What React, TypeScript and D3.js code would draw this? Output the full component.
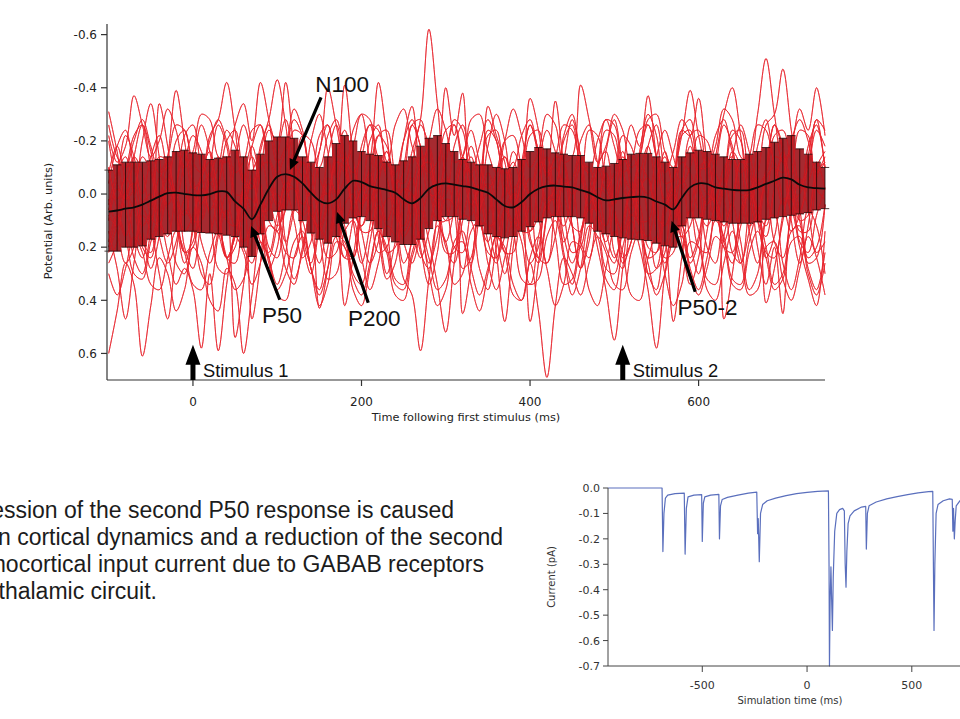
import React from "react";
import * as d3 from "d3";

// ---------- DATA: averaged evoked potential (top chart) ----------
const sampleStart = -100; // ms
const sampleStep = 10; // ms

const meanPotential = [
  0.066, 0.062, 0.055, 0.05, 0.04, 0.025, 0.01, -0.003, -0.005, 0.0,
  0.004, 0.005, 0.0, -0.01, -0.008, 0.028, 0.055, 0.095, 0.04, -0.02,
  -0.065, -0.075, -0.065, -0.04, -0.005, 0.025, 0.035, 0.02, -0.02, -0.05,
  -0.045, -0.03, -0.022, -0.015, -0.005, 0.02, 0.035, 0.015, -0.02, -0.035,
  -0.04, -0.035, -0.03, -0.025, -0.015, -0.005, 0.02, 0.045, 0.05, 0.03,
  0.0, -0.02, -0.03, -0.032, -0.028, -0.025, -0.015, -0.005, 0.012, 0.024,
  0.02, 0.015, 0.012, 0.01, 0.014, 0.028, 0.04, 0.058, 0.015, -0.025,
  -0.04, -0.038, -0.025, -0.02, -0.016, -0.014, -0.015, -0.025, -0.038, -0.05,
  -0.062, -0.055, -0.035, -0.025, -0.022, -0.02,
];

const upperBound = [
  -0.09, -0.11, -0.12, -0.12, -0.12, -0.125, -0.13, -0.14, -0.16, -0.165,
  -0.155, -0.15, -0.13, -0.135, -0.14, -0.165, -0.14, -0.09, -0.15, -0.2,
  -0.215, -0.215, -0.21, -0.14, -0.12, -0.1, -0.14, -0.19, -0.22, -0.2,
  -0.16, -0.15, -0.145, -0.12, -0.11, -0.125, -0.14, -0.18, -0.21, -0.22,
  -0.19, -0.16, -0.13, -0.12, -0.11, -0.11, -0.1, -0.095, -0.1, -0.13,
  -0.16, -0.175, -0.17, -0.155, -0.15, -0.145, -0.145, -0.12, -0.1, -0.105,
  -0.115, -0.13, -0.15, -0.153, -0.153, -0.14, -0.12, -0.1, -0.14, -0.155,
  -0.165, -0.16, -0.15, -0.14, -0.13, -0.13, -0.15, -0.16, -0.175, -0.195,
  -0.21, -0.22, -0.17, -0.15, -0.12, -0.1,
];

const lowerBound = [
  0.215, 0.215, 0.2, 0.2, 0.195, 0.17, 0.16, 0.15, 0.14, 0.14,
  0.14, 0.145, 0.147, 0.15, 0.155, 0.16, 0.2, 0.235, 0.15, 0.1,
  0.065, 0.06, 0.06, 0.1, 0.147, 0.17, 0.185, 0.16, 0.11, 0.09,
  0.085, 0.1, 0.13, 0.16, 0.18, 0.19, 0.19, 0.17, 0.13, 0.1,
  0.085, 0.085, 0.095, 0.1, 0.12, 0.15, 0.16, 0.165, 0.16, 0.14,
  0.123, 0.105, 0.09, 0.085, 0.085, 0.085, 0.09, 0.11, 0.14, 0.15,
  0.16, 0.165, 0.17, 0.172, 0.175, 0.185, 0.195, 0.2, 0.12, 0.09,
  0.09, 0.095, 0.1, 0.105, 0.11, 0.11, 0.11, 0.105, 0.095, 0.09,
  0.085, 0.08, 0.075, 0.07, 0.06, 0.055,
];

// individual trials, in hundredths of an arbitrary unit
const trial01 = [
  -4, -18, -24, -10, 0, -14, -22, -8, 2, -12,
  -22, -16, -4, -10, -24, -18, -6, -2, -16, -26,
  -14, -2, -8, -22, -20, -6, 0, -14, -24, -12,
  -2, -10, -22, -18, -6, -4, -16, -28, -62, -34,
  -8, -2, -14, -24, -12, -2, -8, -20, -22, -10,
  0, -12, -24, -16, -4, -6, -20, -26, -12, -2,
  -8, -22, -18, -6, 0, -14, -24, -14, -4, -10,
  -22, -20, -8, -2, -14, -26, -16, -4, -8, -22,
  -24, -12, -2, -10, -24, -18,
];
const trial02 = [
  -22, -12, -18, -37, -26, -14, -20, -32, -24, -10,
  -16, -30, -28, -14, -12, -26, -34, -20, -42, -28,
  -12, -18, -32, -24, -10, -16, -40, -26, -12, -18,
  -30, -28, -14, -12, -26, -32, -18, -10, -20, -32,
  -24, -12, -14, -28, -30, -16, -8, -20, -32, -22,
  -10, -16, -30, -26, -12, -14, -41, -28, -12, -18,
  -30, -24, -10, -14, -28, -30, -16, -10, -22, -39,
  -22, -10, -18, -32, -28, -14, -12, -30, -51, -30,
  -12, -18, -32, -24, -40, -22,
];
const trial03 = [
  30, 38, 28, 16, 22, 34, 36, 24, 14, 22,
  34, 36, 22, 14, 24, 36, 32, 18, 12, 26,
  36, 30, 18, 14, 28, 38, 28, 16, 18, 32,
  38, 26, 14, 20, 34, 36, 22, 14, 24, 36,
  32, 18, 14, 28, 38, 28, 16, 20, 34, 40,
  26, 44, 69, 42, 24, 30, 38, 26, 16, 22,
  34, 36, 22, 14, 26, 38, 30, 18, 16, 30,
  38, 28, 16, 20, 34, 36, 22, 14, 24, 36,
  32, 18, 16, 30, 38, 26,
];
const trial04 = [
  60, 44, 26, 34, 61, 42, 24, 30, 44, 36,
  20, 26, 40, 44, 28, 34, 60, 38, 18, 24,
  38, 40, 24, 16, 28, 42, 34, 18, 20, 36,
  42, 28, 14, 22, 38, 40, 24, 16, 30, 42,
  36, 20, 18, 34, 44, 30, 16, 22, 38, 40,
  24, 16, 28, 42, 34, 18, 20, 36, 42, 28,
  14, 22, 38, 40, 24, 16, 30, 42, 34, 18,
  20, 36, 40, 26, 14, 24, 38, 36, 20, 18,
  32, 40, 28, 16, 24, 38,
];
const trial05 = [
  18, 8, 16, 30, 32, 18, 10, 22, 34, 28,
  36, 58, 30, 59, 34, 16, 22, 34, 26, 12,
  14, 28, 34, 20, 8, 16, 32, 30, 14, 10,
  24, 36, 26, 12, 16, 32, 38, 59, 32, 12,
  18, 34, 30, 14, 10, 26, 36, 24, 10, 18,
  34, 32, 16, 10, 24, 38, 28, 12, 16, 32,
  36, 20, 10, 20, 36, 58, 30, 14, 12, 28,
  36, 24, 10, 16, 32, 34, 18, 8, 20, 34,
  30, 14, 12, 28, 36, 22,
];
const trial06 = [
  -10, 2, -8, -22, -26, -10, 0, -14, -39, -20,
  -2, -6, -22, -28, -42, -24, -4, -2, -18, -28,
  -43, -26, -6, -4, -20, -30, -16, 0, -6, -24,
  -30, -14, -42, -22, -4, -8, -26, -28, -10, 0,
  -12, -28, -24, -6, -2, -18, -30, -20, -2, -8,
  -36, -24, -6, -4, -22, -30, -14, 0, -10, -28,
  -26, -8, -2, -16, -30, -22, -4, -6, -24, -28,
  -10, 0, -14, -30, -40, -22, -2, -8, -26, -30,
  -47, -24, -4, -10, -28, -24,
];
const trial07 = [
  14, 28, 47, 26, 8, 14, 30, 47, 22, 6,
  12, 30, 34, 16, 6, 54, 34, 12, 8, 24,
  34, 22, 6, 10, 28, 36, 20, 4, 12, 30,
  34, 18, 4, 14, 32, 34, 16, 6, 18, 34,
  52, 26, 8, 10, 28, 36, 20, 6, 14, 32,
  34, 16, 4, 16, 34, 32, 14, 6, 20, 36,
  55, 28, 8, 12, 30, 36, 18, 48, 24, 6,
  14, 32, 34, 16, 4, 18, 36, 30, 10, 8,
  26, 36, 24, 6, 12, 30,
];
const trial08 = [
  10, -2, 6, 24, 30, 14, 0, 6, 26, 30,
  12, -2, 8, 28, 30, 12, 0, 47, 26, 2,
  0, 18, 32, 22, 4, 43, 28, 6, 42, 24,
  6, 0, 16, 32, 26, 6, 0, 20, 34, 22,
  2, 4, 45, 28, 6, 0, 22, 48, 20, 2,
  48, 26, 4, 2, 22, 34, 18, 0, 8, 28,
  30, 12, -2, 10, 30, 28, 8, 0, 18, 34,
  24, 4, 2, 47, 30, 8, 0, 20, 34, 20,
  45, 6, 20, 32, 42, 14,
];
const trial09 = [
  -31, -16, 2, -2, -20, -34, -14, 4, -4, -22,
  -26, -8, 6, -2, -20, -24, -4, 6, -8, -24,
  -20, -42, -16, 4, -2, -22, -26, -6, -41, -14,
  4, -4, -22, -24, -6, 4, -10, -26, -18, 2,
  0, -18, -26, -10, 6, -33, -22, -12, 4, -4,
  -22, -24, -6, -35, -12, 0, -4, -24, -22, -4,
  4, -10, -26, -18, -37, -14, 2, -6, -24, -22,
  -36, -12, 4, -4, -22, -24, -4, 6, -10, -26,
  -18, 2, 0, -18, -26, -10,
];
const trial10 = [
  6, -6, -22, -14, 4, 10, -34, -18, 2, 8,
  -10, -26, -16, 4, 8, -12, -26, -14, 6, 6,
  -14, -28, -12, 8, 4, -16, -26, -8, 10, 2,
  -18, -26, -6, 10, 0, -20, -33, -4, 12, -2,
  -40, -22, -38, 8, -4, -24, -20, 2, 10, -8,
  -26, -16, 6, 8, -12, -28, -14, 6, 4, -16,
  -28, -10, 8, 2, -18, -26, -6, 10, -2, -22,
  -24, -4, 10, -4, -24, -20, 2, 10, -8, -26,
  -16, 6, 6, -14, -28, -10,
];
const trial11 = [
  20, 8, -6, 0, 18, 22, 4, -6, 6, 22,
  18, 0, -8, 8, 24, 16, -2, -4, 12, 24,
  12, -4, -2, 16, 26, 10, -6, 0, 20, 24,
  6, -8, 4, 22, 20, 2, -6, 10, 26, 16,
  -2, -4, 16, 26, 8, -8, 2, 22, 22, 2,
  -6, 8, 26, 16, -4, -2, 18, 24, 6, -8,
  6, 24, 18, -2, -6, 14, 26, 10, -6, 2,
  20, 22, 2, -6, 10, 26, 14, -4, 0, 18,
  24, 8, -6, 6, 22, 18,
];
const trial12 = [
  -10, 6, 16, 2, -14, -8, 10, 16, -2, -16,
  -4, 14, 14, -4, -14, 0, 18, 10, -10, -12,
  4, 18, 6, -12, -8, 10, 18, 2, -14, -4,
  14, 14, -4, -16, 0, 16, 10, -10, -12, 6,
  18, 6, -12, -8, 10, 18, 0, -14, -4, 14,
  14, -6, -14, 2, 18, 8, -10, -10, 8, 18,
  4, -14, -6, 12, 16, -2, -16, 0, 16, 12,
  -6, -14, 4, 18, 6, -12, -8, 10, 16, -2,
  -16, -2, 14, 14, -6, -14,
];
const trial13 = [
  8, 12, -2, -14, -8, 8, 12, -4, -16, -6,
  10, 10, -6, -14, -2, 12, 8, -8, -14, 0,
  12, 6, -10, -12, 2, 14, 4, -12, -10, 6,
  12, 0, -14, -6, 8, 12, -2, -14, -4, 10,
  10, -4, -14, 0, 12, 8, -8, -14, 2, 12,
  4, -12, -10, 6, 12, 0, -14, -6, 8, 12,
  -4, -16, -2, 10, 10, -6, -14, 0, 12, 6,
  -10, -12, 4, 12, 2, -12, -10, 6, 12, -2,
  -14, -4, 10, 8, -8, -12,
];
const trial14 = [
  26, 18, 0, -4, 14, 28, 16, -2, 0, 20,
  28, 10, -4, 4, 24, 26, 6, -6, 10, 28,
  20, 0, -2, 18, 30, 12, -4, 4, 24, 24,
  4, -6, 12, 30, 18, -2, 0, 22, 28, 8,
  -6, 6, 28, 24, 2, -4, 16, 30, 14, -4,
  2, 24, 26, 4, -6, 12, 28, 18, -2, 0,
  22, 28, 8, -6, 8, 28, 22, 0, -4, 18,
  30, 14, -4, 2, 22, 26, 6, -6, 41, 28,
  10, -4, 6, 26, 24, 4,
];
const trial15 = [
  -20, -4, 2, -14, -26, -16, 2, -2, -20, -24,
  -6, 4, -10, -26, -18, 0, 0, -18, -26, -8,
  4, -6, -24, -22, -2, 2, -14, -26, -12, 4,
  -2, -20, -26, -6, 4, -10, -26, -18, 0, 0,
  -16, -26, -10, 4, -4, -22, -24, -4, 2, -12,
  -26, -14, 2, -2, -20, -26, -8, 4, -8, -24,
  -22, -2, 2, -14, -26, -14, 4, -4, -22, -24,
  -4, 4, -10, -26, -18, 0, 0, -18, -28, -10,
  4, -6, -24, -22, -2, 2,
];
const trial16 = [
  -8, -18, -4, 16, 24, 6, -14, -12, 10, 26,
  14, -8, -16, 2, 24, 20, -4, -18, -4, 20,
  24, 2, -16, -10, 14, 26, 8, -14, -12, 10,
  26, 12, -10, -16, 4, 26, 18, -6, -18, 0,
  22, 22, -2, -18, -6, 18, 26, 4, -16, -8,
  16, 26, 8, -14, -12, 12, 28, 14, -10, -16,
  6, 26, 18, -6, -18, 0, 24, 22, -2, -18,
  -4, 20, 26, 4, -16, -10, 14, 26, 8, -14,
  -12, 10, 26, 12, -10, -16,
];
const trial17 = [
  4, -8, -14, 0, 12, 6, -6, -10, 2, 14,
  8, -6, -12, -2, 10, 12, -2, -14, -4, 10,
  14, 0, -10, -6, 8, 12, 2, -12, -8, 6,
  12, 4, -8, -12, 4, 14, 6, -10, -12, 2,
  10, 8, -6, -14, 0, 12, 10, -4, -12, -2,
  14, 8, -6, -10, 0, 12, 14, -2, -10, -6,
  6, 14, 4, -10, -6, 8, 12, 2, -12, -8,
  6, 12, 4, -10, -14, 0, 12, 8, -6, -10,
  2, 14, 8, -4, -12, -2,
];
const trial18 = [
  22, 12, 0, 6, 20, 24, 8, -2, 8, 22,
  20, 4, 0, 14, 24, 16, 2, 2, 18, 22,
  8, -2, 10, 24, 18, 2, 0, 16, 24, 10,
  -2, 6, 22, 20, 4, -2, 12, 24, 14, 0,
  4, 20, 22, 6, -2, 10, 24, 16, 0, 2,
  18, 24, 8, -2, 8, 22, 20, 4, 0, 14,
  24, 14, 0, 4, 20, 22, 6, -2, 10, 24,
  16, 0, 4, 20, 22, 6, -2, 10, 24, 16,
  2, 2, 18, 22, 8, -2,
];
const trial19 = [
  -26, -14, -10, -20, -28, -18, -8, -14, -26, -24,
  -12, -8, -20, -28, -20, -8, -12, -24, -26, -14,
  -8, -16, -28, -22, -10, -10, -22, -28, -16, -8,
  -14, -26, -24, -12, -8, -20, -28, -18, -8, -12,
  -24, -26, -14, -8, -18, -28, -20, -8, -10, -22,
  -28, -16, -8, -14, -26, -24, -12, -8, -20, -28,
  -18, -8, -12, -24, -26, -14, -8, -16, -28, -22,
  -10, -10, -22, -28, -16, -8, -14, -26, -24, -12,
  -8, -20, -28, -20, -8, -12,
];
const trial20 = [
  2, 14, 26, 20, 4, 0, 16, 26, 18, 2,
  0, 18, 26, 14, 0, 4, 20, 26, 10, -2,
  6, 22, 24, 8, -2, 10, 24, 22, 4, 0,
  14, 26, 18, 2, 2, 18, 26, 14, 0, 4,
  20, 26, 10, -2, 8, 22, 24, 6, 0, 12,
  26, 20, 2, 0, 16, 26, 16, 0, 4, 20,
  26, 10, -2, 8, 24, 22, 4, 0, 14, 26,
  18, 2, 2, 18, 26, 12, 0, 6, 22, 24,
  8, -2, 10, 24, 20, 4,
];
const trials = [
  trial01, trial02, trial03, trial04, trial05, trial06, trial07, trial08, trial09, trial10,
  trial11, trial12, trial13, trial14, trial15, trial16, trial17, trial18, trial19, trial20,
];

const potentialTicks = [-0.6, -0.4, -0.2, 0, 0.2, 0.4, 0.6];
const timeTicks = [0, 200, 400, 600];

// annotation anchors in data units [ms, potential]
const peakLabels = ["N100", "P50", "P200", "P50-2"];
const peakTail = [[152, -0.364], [103, 0.398], [208, 0.409], [596, 0.368]];
const peakTip = [[115, -0.09], [69, 0.12], [171, 0.068], [568, 0.101]];
const peakText = [[145, -0.383], [82, 0.484], [184, 0.495], [575, 0.454]];

const stimulusLabels = ["Stimulus 1", "Stimulus 2"];
const stimulusTimes = [0, 510];

// ---------- DATA: thalamocortical input current (bottom-right chart) ----------
const currentTime = [
  -950, -692, -688, -683, -676, -665, -630, -586, -582, -576, -568, -540, -503, -500, -495,
  -488, -460, -421, -418, -413, -405, -380, -330, -280, -240, -236, -233, -228, -222, -212,
  -190, -150, -100, -50, 0, 50, 102, 105, 107, 110, 114, 118, 121, 125, 132, 142, 155, 170,
  178, 182, 186, 190, 196, 205, 225, 260, 280, 283, 288, 296, 330, 380, 430, 480, 530, 580,
  600, 603, 606, 610, 616, 625, 650, 680, 693, 696, 699, 703, 707, 712, 730, 760,
];
const currentValue = [
  0, 0, -0.25, -0.1, -0.04, -0.028, -0.022, -0.02, -0.26, -0.08, -0.035, -0.028, -0.026, -0.21, -0.06,
  -0.035, -0.028, -0.025, -0.2, -0.07, -0.045, -0.037, -0.028, -0.02, -0.016, -0.18, -0.12, -0.29, -0.1, -0.065,
  -0.05, -0.04, -0.03, -0.022, -0.017, -0.013, -0.011, -0.31, -0.7, -0.45, -0.31, -0.46, -0.56, -0.35, -0.17, -0.1, -0.085, -0.08,
  -0.09, -0.3, -0.39, -0.25, -0.14, -0.11, -0.09, -0.075, -0.072, -0.24, -0.1, -0.07, -0.055, -0.043, -0.034, -0.026, -0.019, -0.014,
  -0.013, -0.3, -0.56, -0.3, -0.1, -0.065, -0.05, -0.043, -0.045, -0.17, -0.08, -0.2, -0.13, -0.07, -0.05, -0.04,
];
const currentTicks = [0, -0.1, -0.2, -0.3, -0.4, -0.5, -0.6, -0.7];
const simTimeTicks = [-500, 0, 500];

// ---------- DATA: slide text ----------
const bodyLines = [
  "ession of the second P50 response is caused",
  "n cortical dynamics and a reduction of the second",
  "mocortical input current due to GABAB receptors",
  "thalamic circuit.",
];

// ---------- LAYOUT ----------
const W = 960;
const H = 719;
const axisFont = "'DejaVu Sans', Verdana, sans-serif";
const slideFont = "'Liberation Sans', Arial, Helvetica, sans-serif";
const bodyLineEnd = [454, 503, 484, 157];
const bodyLineBase = [518, 545, 572, 599];

function arrowPath(x1: number, y1: number, x2: number, y2: number, shaft: number, headLen: number, headW: number) {
  const dx = x2 - x1;
  const dy = y2 - y1;
  const len = Math.hypot(dx, dy);
  const ux = dx / len;
  const uy = dy / len;
  const nx = -uy;
  const ny = ux;
  const bx = x2 - ux * headLen;
  const by = y2 - uy * headLen;
  const p = [
    [x1 + nx * shaft / 2, y1 + ny * shaft / 2],
    [bx + nx * shaft / 2, by + ny * shaft / 2],
    [bx + nx * headW / 2, by + ny * headW / 2],
    [x2, y2],
    [bx - nx * headW / 2, by - ny * headW / 2],
    [bx - nx * shaft / 2, by - ny * shaft / 2],
    [x1 - nx * shaft / 2, y1 - ny * shaft / 2],
  ];
  return "M" + p.map((q) => q[0].toFixed(2) + "," + q[1].toFixed(2)).join("L") + "Z";
}

export default function App() {
  // top chart scales
  const x = d3.scaleLinear().domain([-102, 750]).range([107, 825]);
  const y = d3.scaleLinear().domain([-0.64, 0.7]).range([24, 380]);
  const tAt = (i: number) => sampleStart + sampleStep * i;
  const half = (x(sampleStep) - x(0)) / 2;

  const trialLine = d3
    .line<number>()
    .x((_, i) => x(tAt(i)))
    .y((d) => y(d / 100))
    .curve(d3.curveCatmullRom.alpha(0.5));

  const meanLine = d3
    .line<number>()
    .x((_, i) => x(tAt(i)))
    .y((d) => y(d))
    .curve(d3.curveCatmullRom.alpha(0.5));

  const band = d3
    .area<number>()
    .x((_, i) => x(tAt(i)))
    .y0((_, i) => y(upperBound[i]))
    .y1((_, i) => y(lowerBound[i]))
    .curve(d3.curveStep);

  // bottom chart scales
  const xc = d3.scaleLinear().domain([-950, 730]).range([608, 960]);
  const yc = d3.scaleLinear().domain([-0.7, 0]).range([666, 488]);
  const currentLine = d3
    .line<number>()
    .x((_, i) => xc(currentTime[i]))
    .y((d) => yc(d));

  const axisColor = "#333";
  const [x0, x1] = x.range();
  const [yTop, yBot] = y.range();

  return (
    <svg
      width={W}
      height={H}
      viewBox={`0 0 ${W} ${H}`}
      style={{ position: "absolute", left: 0, top: 0, display: "block", background: "#fff" }}
    >
      <rect x={0} y={0} width={W} height={H} fill="#fff" />

      {/* ---------- top chart ---------- */}
      <g fill="none" stroke="#e8202a" strokeWidth={0.9} strokeLinejoin="round">
        {trials.map((tr, k) => (
          <path key={k} d={trialLine(tr.slice(0, meanPotential.length)) || ""} />
        ))}
      </g>
      <path d={band(meanPotential) || ""} fill="#9a0d13" opacity={0.88} />
      <g fill="none" stroke="#e8242c" strokeWidth={0.8} strokeLinejoin="round" opacity={0.65}>
        {trials.map((tr, k) => (
          <path key={k} d={trialLine(tr.slice(0, meanPotential.length)) || ""} />
        ))}
      </g>
      <g stroke="#1a0000" strokeWidth={0.9} opacity={0.85}>
        {meanPotential.map((_, i) => {
          const xx = x(tAt(i));
          const ya = y(upperBound[i]);
          const yb = y(lowerBound[i]);
          return (
            <g key={i}>
              <line x1={xx} x2={xx} y1={ya} y2={yb} />
              <line x1={xx - half} x2={xx + half} y1={ya} y2={ya} />
              <line x1={xx - half} x2={xx + half} y1={yb} y2={yb} />
            </g>
          );
        })}
      </g>
      <path d={meanLine(meanPotential) || ""} fill="none" stroke="#0a0a0a" strokeWidth={1.8} />

      {/* axes */}
      <g stroke={axisColor} strokeWidth={1.2} fill="none">
        <line x1={x0} x2={x0} y1={yTop} y2={yBot} />
        <line x1={x0} x2={x1} y1={yBot} y2={yBot} />
        {potentialTicks.map((v) => (
          <line key={v} x1={x0 - 6} x2={x0} y1={y(v)} y2={y(v)} />
        ))}
        {timeTicks.map((t) => (
          <line key={t} x1={x(t)} x2={x(t)} y1={yBot} y2={yBot + 6} />
        ))}
      </g>
      <g fontFamily={axisFont} fontSize={12} fill="#222">
        {potentialTicks.map((v) => (
          <text key={v} x={x0 - 10} y={y(v)} dy="0.36em" textAnchor="end">
            {v.toFixed(1)}
          </text>
        ))}
        {timeTicks.map((t) => (
          <text key={t} x={x(t)} y={yBot + 26} textAnchor="middle">
            {t}
          </text>
        ))}
      </g>
      <text x={(x0 + x1) / 2} y={yBot + 41} textAnchor="middle" fontFamily={axisFont} fontSize={11.3} fill="#222">
        Time following first stimulus (ms)
      </text>
      <text
        transform={`translate(52,${(yTop + yBot) / 2 + 19}) rotate(-90)`}
        textAnchor="middle"
        fontFamily={axisFont}
        fontSize={11.3}
        fill="#222"
      >
        Potential (Arb. units)
      </text>

      {/* peak annotations */}
      {peakLabels.map((lab, k) => (
        <g key={lab}>
          <path
            d={arrowPath(x(peakTail[k][0]), y(peakTail[k][1]), x(peakTip[k][0]), y(peakTip[k][1]), 3.2, 11, 10)}
            fill="#000"
          />
          <text x={x(peakText[k][0])} y={y(peakText[k][1])} fontFamily={slideFont} fontSize={22.5} fill="#111">
            {lab}
          </text>
        </g>
      ))}
      {stimulusLabels.map((lab, k) => {
        const sx = x(stimulusTimes[k]);
        return (
          <g key={lab}>
            <path d={arrowPath(sx, yBot, sx, y(0.567), 5, 20, 15)} fill="#000" />
            <text x={sx + 10} y={yBot - 3} fontFamily={slideFont} fontSize={18.3} fill="#111">
              {lab}
            </text>
          </g>
        );
      })}

      {/* ---------- body text ---------- */}
      <g fontFamily={slideFont} fontSize={23} fill="#1c1c1c" textAnchor="end">
        {bodyLines.map((s, k) => (
          <text key={k} x={bodyLineEnd[k]} y={bodyLineBase[k]}>
            {s}
          </text>
        ))}
      </g>

      {/* ---------- bottom-right chart ---------- */}
      <path d={currentLine(currentValue) || ""} fill="none" stroke="#5a6fbd" strokeWidth={1.2} strokeLinejoin="round" />
      <g stroke="#444" strokeWidth={1} fill="none">
        <line x1={608} x2={608} y1={yc(0)} y2={yc(-0.7)} />
        <line x1={608} x2={960} y1={yc(-0.7)} y2={yc(-0.7)} />
        {currentTicks.map((v) => (
          <line key={v} x1={603} x2={608} y1={yc(v)} y2={yc(v)} />
        ))}
        {simTimeTicks.map((t) => (
          <line key={t} x1={xc(t)} x2={xc(t)} y1={yc(-0.7)} y2={yc(-0.7) + 6} />
        ))}
      </g>
      <g fontFamily={axisFont} fontSize={11} fill="#333">
        {currentTicks.map((v) => (
          <text key={v} x={600} y={yc(v)} dy="0.36em" textAnchor="end">
            {v.toFixed(1)}
          </text>
        ))}
        {simTimeTicks.map((t) => (
          <text key={t} x={xc(t)} y={yc(-0.7) + 23} textAnchor="middle">
            {t}
          </text>
        ))}
      </g>
      <text x={790} y={704} textAnchor="middle" fontFamily={axisFont} fontSize={10} fill="#333">
        Simulation time (ms)
      </text>
      <text
        transform={`translate(555,577) rotate(-90)`}
        textAnchor="middle"
        fontFamily={axisFont}
        fontSize={10}
        fill="#333"
      >
        Current (pA)
      </text>
    </svg>
  );
}
